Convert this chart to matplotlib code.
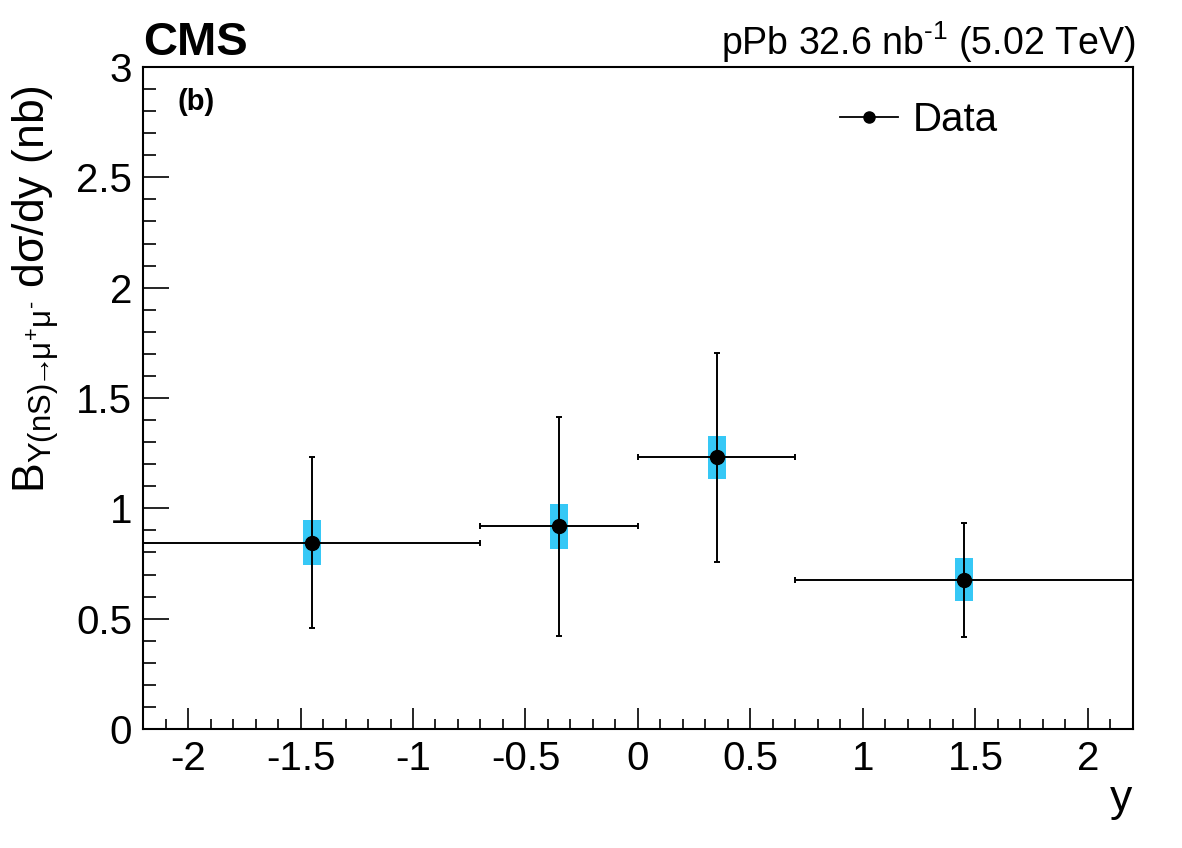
import matplotlib
matplotlib.use("Agg")
import matplotlib.pyplot as plt
from matplotlib.lines import Line2D
from matplotlib.ticker import MultipleLocator

plt.rcParams['font.family'] = ['Liberation Sans', 'DejaVu Sans']
plt.rcParams['mathtext.fontset'] = 'custom'
plt.rcParams['mathtext.rm'] = 'Liberation Sans'
plt.rcParams['mathtext.it'] = 'Liberation Sans'
plt.rcParams['mathtext.bf'] = 'Liberation Sans:bold'

# data: rapidity bins and cross sections
y_center = [-1.45, -0.35, 0.35, 1.45]
bin_lo = [-2.2, -0.7, 0.0, 0.7]
bin_hi = [-0.7, 0.0, 0.7, 2.2]
xsec = [0.845, 0.918, 1.231, 0.677]
stat_err = [0.389, 0.497, 0.473, 0.258]
syst_err = [0.100, 0.100, 0.099, 0.099]

box_color = '#36c8f6'

fig = plt.figure(figsize=(11.82, 8.48), dpi=100)
ax = fig.add_axes([0.121, 0.1403, 0.8375, 0.7807])

# systematic boxes
ax.bar(y_center, [2 * s for s in syst_err], width=0.08,
       bottom=[v - s for v, s in zip(xsec, syst_err)],
       color=box_color, edgecolor='none', zorder=1)

xerr_lo = [c - lo for c, lo in zip(y_center, bin_lo)]
xerr_hi = [hi - c for c, hi in zip(y_center, bin_hi)]
ax.errorbar(y_center, xsec, xerr=[xerr_lo, xerr_hi], yerr=stat_err,
            fmt='o', color='black', markersize=10, elinewidth=1.4,
            capsize=2, capthick=1.4, zorder=3, clip_on=False)

ax.set_xlim(-2.2, 2.2)
ax.set_ylim(0, 3)

ax.xaxis.set_minor_locator(MultipleLocator(0.1))
ax.yaxis.set_minor_locator(MultipleLocator(0.1))
ax.set_xticks([-2, -1.5, -1, -0.5, 0, 0.5, 1, 1.5, 2])
ax.set_xticklabels(['-2', '-1.5', '-1', '-0.5', '0', '0.5', '1', '1.5', '2'])
ax.set_yticks([0, 0.5, 1, 1.5, 2, 2.5, 3])
ax.set_yticklabels(['0', '0.5', '1', '1.5', '2', '2.5', '3'])

ax.tick_params(axis='x', which='major', direction='in', length=15, width=1.2,
               labelsize=29, pad=8)
ax.tick_params(axis='x', which='minor', direction='in', length=7.5, width=1.2)
ax.tick_params(axis='y', which='major', direction='in', length=19, width=1.2,
               labelsize=29, pad=8)
ax.tick_params(axis='y', which='minor', direction='in', length=9.5, width=1.2)
for sp in ax.spines.values():
    sp.set_linewidth(1.5)

ax.set_xlabel('y', fontsize=32, ha='right')
ax.xaxis.set_label_coords(0.999, -0.075)
ax.set_ylabel(r'$\mathregular{B_{\Upsilon(nS)\!\!\rightarrow\!\!\mu^{+}\mu^{\text{-}}}\ d\sigma/dy\ (nb)}$',
              fontsize=32, ha='right')
ax.yaxis.set_label_coords(-0.083, 0.973)

# header texts
ax.text(0.0, 1.018, 'CMS', transform=ax.transAxes, fontsize=34,
        fontweight='bold', ha='left', va='baseline')
ax.text(1.002, 1.018, r'pPb 32.6 nb$^{\text{-1}}$ (5.02 TeV)',
        transform=ax.transAxes, fontsize=27, ha='right', va='baseline')
ax.text(0.035, 0.968, '(b)', transform=ax.transAxes, fontsize=21,
        fontweight='bold', ha='left', va='top')

handle = Line2D([], [], color='black', marker='o', markersize=8, lw=1.3)
ax.legend(handles=[handle], labels=['Data'], loc='center left',
          bbox_to_anchor=(0.704, 0.92), frameon=False, fontsize=29,
          handlelength=1.45, handletextpad=0.35, borderpad=0, borderaxespad=0)

fig.savefig('out.png', dpi=100)
